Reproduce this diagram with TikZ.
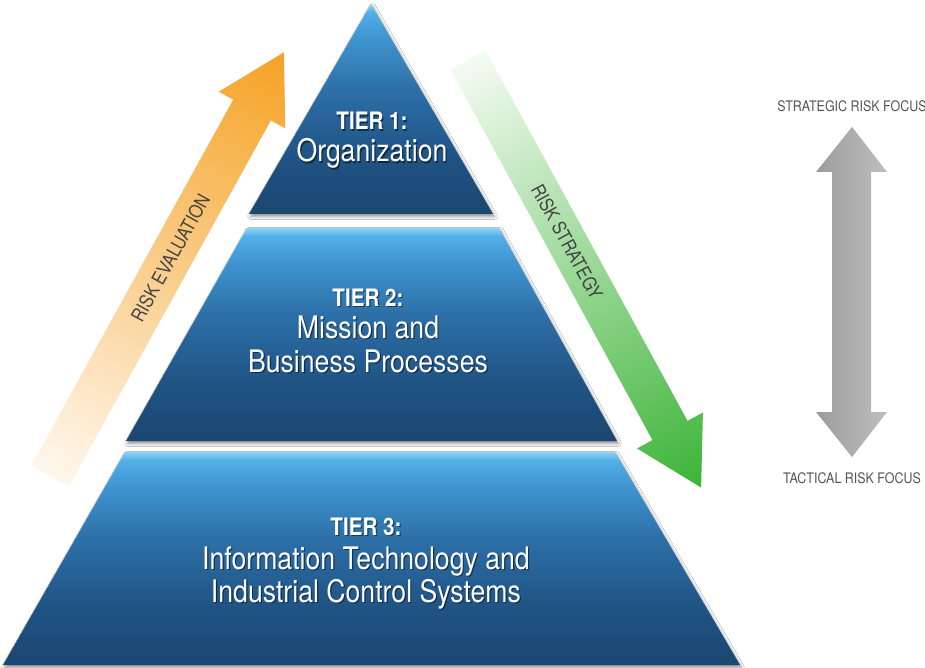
\documentclass[tikz,border=0pt]{standalone}
\usepackage{fontspec}
\setmainfont{TeX Gyre Heros}[FakeStretch=0.86]
\usepackage{tikz}
\usetikzlibrary{calc,positioning,shadows.blur}
\definecolor{tiertop}{HTML}{8AD2F6}
\definecolor{tiersky}{HTML}{52AEE6}
\definecolor{tierlight}{HTML}{3F95D0}
\definecolor{tiermid}{HTML}{2D70A8}
\definecolor{tierdeep}{HTML}{1F5283}
\definecolor{tierdark}{HTML}{1B4770}
\definecolor{evalorange}{HTML}{F5A223}
\definecolor{evalpale}{HTML}{FEF7EE}
\definecolor{stratgreen}{HTML}{3CB437}
\definecolor{stratpale}{HTML}{F4FBF2}
\definecolor{focusdark}{HTML}{9C9C9C}
\definecolor{focuslight}{HTML}{BEBEBE}
\definecolor{focustext}{HTML}{555555}
\definecolor{arrowtext}{HTML}{444444}
\pgfdeclareverticalshading{tierblue}{100bp}{color(0bp)=(tierdark); color(25bp)=(tierdark);
  color(38bp)=(tierdeep); color(55bp)=(tiermid); color(67bp)=(tierlight);
  color(73bp)=(tiersky); color(75bp)=(tiertop); color(100bp)=(tiertop)}
\newcommand{\tiertext}[4]{%
  \node[#3, labelshadow, anchor=base] at ([shift={(1.2,1.6)}]#2) {#4};
  \node[#3, anchor=base] (#1) at (#2) {#4};}

\begin{document}
\begin{tikzpicture}[
    x=1pt, y=-1pt,
    tier/.style={shading=tierblue,
        blur shadow={shadow xshift=1.5pt, shadow yshift=-2.5pt, shadow blur radius=3pt, shadow opacity=45}},
    tierhead/.style={text=white, inner sep=0, font=\bfseries\fontsize{24}{26}\selectfont},
    tierbody/.style={text=white, inner sep=0, font=\fontsize{31}{33}\selectfont},
    labelshadow/.style={text=black, opacity=0.5},
    arrowlabel/.style={text=arrowtext, inner sep=0, font=\fontsize{19}{20}\selectfont},
    focuslabel/.style={text=focustext, inner sep=0, font=\fontsize{14.5}{16}\selectfont}]
\useasboundingbox (0,0) rectangle (925,668);
\fill[white] (0,0) rectangle (925,668);

\shade[tier] (371,4) -- (493,214) -- (249,214) -- cycle;
\shade[tier] (247,228) -- (499,228) -- (617,441) -- (126,441) -- cycle;
\shade[tier] (125,452) -- (615,452) -- (740,665) -- (3,665) -- cycle;

\tiertext{t1head}{372,130}{tierhead}{TIER 1:}
\tiertext{t1body}{372,162}{tierbody}{Organization}
\tiertext{t2head}{368,306}{tierhead}{TIER 2:}
\tiertext{t2bodya}{368,338}{tierbody}{Mission and}
\tiertext{t2bodyb}{368,372}{tierbody}{Business Processes}
\tiertext{t3head}{366,535}{tierhead}{TIER 3:}
\tiertext{t3bodya}{366,569}{tierbody}{Information Technology and}
\tiertext{t3bodyb}{366,602}{tierbody}{Industrial Control Systems}

% risk evaluation, going up
\coordinate (evtail) at (50,476);
\coordinate (evbase) at (252,110);
\begin{scope}[transform canvas={shift={(evtail)}, rotate=61.1}]
\shade[left color=evalpale, right color=evalorange]
    (0,-21.5) -- (418,-21.5) -- (418,-38) -- (484,0) -- (418,38) -- (418,21.5) -- (0,21.5) -- cycle;
\end{scope}
\node[arrowlabel, rotate=61.1] (evlabel) at ($(evbase)!169pt!(evtail)$) {RISK EVALUATION};

% risk strategy, going down
\coordinate (sttail) at (468,60);
\coordinate (stbase) at (670,431);
\begin{scope}[transform canvas={shift={(sttail)}, rotate=-61.4}]
\shade[left color=stratpale, right color=stratgreen]
    (0,-20) -- (422,-20) -- (422,-37.5) -- (487,0) -- (422,37.5) -- (422,20) -- (0,20) -- cycle;
\end{scope}
\node[arrowlabel, rotate=-61.4] (stlabel) at ($(sttail)!207pt!(stbase)$) {RISK STRATEGY};

\node[focuslabel, anchor=base] (strategic) at (852,112) {STRATEGIC RISK FOCUS};
\node[focuslabel, anchor=base] (tactical) at (852,483) {TACTICAL RISK FOCUS};
\shade[left color=focusdark, right color=focuslight]
    (832,172) -- (816,172) -- (852,127) -- (887,172) -- (871,172)
    -- (871,412) -- (887,412) -- (852,457) -- (816,412) -- (832,412) -- cycle;

\end{tikzpicture}
\end{document}
